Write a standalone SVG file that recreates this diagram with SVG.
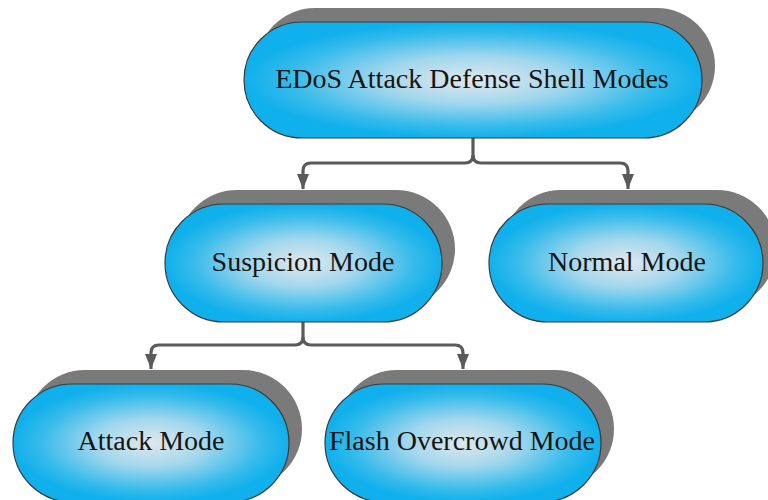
<svg xmlns="http://www.w3.org/2000/svg" width="768" height="500" viewBox="0 0 768 500">
<style>
.shadow{fill:#7a7a7a;}
.node{fill:url(#g);stroke:#3a3a3a;stroke-width:1.2;}
.label{font-family:"Liberation Serif","Times New Roman",serif;font-size:28px;fill:#151515;text-anchor:middle;}
.conn{fill:none;stroke:#5a5a5a;stroke-width:3.2;}
</style>
<defs>
<radialGradient id="g" cx="0.5" cy="0.5" r="0.5">
<stop offset="0" stop-color="#e0e8eb"/>
<stop offset="0.4" stop-color="#a3d7ed"/>
<stop offset="0.8" stop-color="#36bbeb"/>
<stop offset="1" stop-color="#10b0ec"/>
</radialGradient>
<marker id="arr" markerUnits="userSpaceOnUse" markerWidth="14" markerHeight="16" refX="6" refY="15" orient="0" viewBox="0 0 12 16">
<path d="M0,0 L12,0 L6,15 Z" fill="#5a5a5a"/>
</marker>
</defs>
<rect width="768" height="500" fill="#ffffff"/>
<g id="connectors">
<path class="conn" d="M473,138 V155 Q473,163 465,163 H311 Q303,163 303,171 V189" marker-end="url(#arr)"/>
<path class="conn" d="M473,155 Q473,163 481,163 H620 Q628,163 628,171 V189" marker-end="url(#arr)"/>
<path class="conn" d="M303,322 V337 Q303,345 295,345 H159 Q151,345 151,353 V369" marker-end="url(#arr)"/>
<path class="conn" d="M303,337 Q303,345 311,345 H455 Q463,345 463,353 V369" marker-end="url(#arr)"/>
</g>
<g id="n-root">
<rect class="shadow" x="257" y="8" width="458" height="116" rx="58"/>
<rect class="node" x="244" y="22" width="458" height="116" rx="58"/>
<text class="label" x="472" y="88">EDoS Attack Defense Shell Modes</text>
</g>
<g id="n-suspicion">
<rect class="shadow" x="178" y="190" width="277" height="118" rx="59"/>
<rect class="node" x="165" y="204" width="277" height="118" rx="59"/>
<text class="label" x="303" y="271">Suspicion Mode</text>
</g>
<g id="n-normal">
<rect class="shadow" x="502" y="190" width="274" height="118" rx="59"/>
<rect class="node" x="489" y="204" width="274" height="118" rx="59"/>
<text class="label" x="627" y="271">Normal Mode</text>
</g>
<g id="n-attack">
<rect class="shadow" x="26" y="370" width="276" height="118" rx="59"/>
<rect class="node" x="13" y="384" width="276" height="118" rx="59"/>
<text class="label" x="151" y="450">Attack Mode</text>
</g>
<g id="n-flash">
<rect class="shadow" x="338" y="370" width="276" height="118" rx="59"/>
<rect class="node" x="325" y="384" width="276" height="118" rx="59"/>
<text class="label" x="462" y="450">Flash Overcrowd Mode</text>
</g>
</svg>
